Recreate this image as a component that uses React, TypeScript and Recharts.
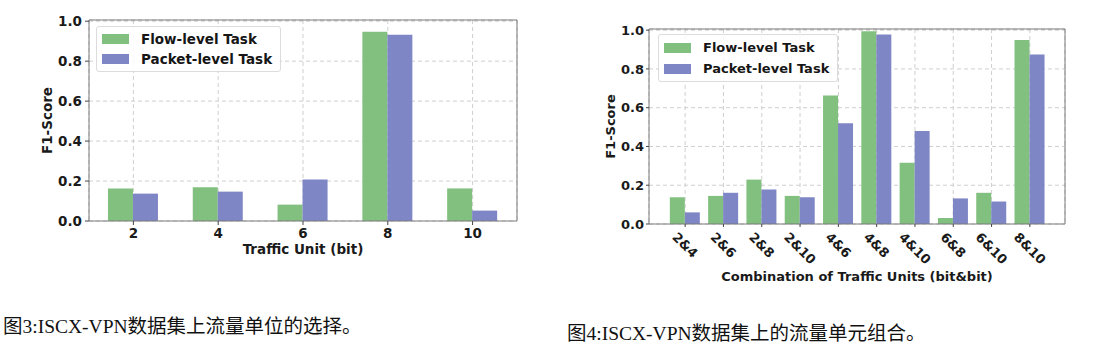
import React from 'react';
import {
  BarChart,
  Bar,
  XAxis,
  YAxis,
  CartesianGrid,
  Legend,
} from 'recharts';

// Fig 3: single traffic unit
const unitCategories = ['2', '4', '6', '8', '10'];
const unitFlow = [0.163, 0.169, 0.082, 0.947, 0.163];
const unitPacket = [0.137, 0.147, 0.208, 0.932, 0.052];

// Fig 4: combinations of traffic units
const comboCategories = ['2&4', '2&6', '2&8', '2&10', '4&6', '4&8', '4&10', '6&8', '6&10', '8&10'];
const comboFlow = [0.138, 0.145, 0.229, 0.145, 0.663, 0.995, 0.316, 0.031, 0.161, 0.949];
const comboPacket = [0.06, 0.161, 0.178, 0.138, 0.52, 0.978, 0.48, 0.132, 0.116, 0.875];

const yTicks = [0, 0.2, 0.4, 0.6, 0.8, 1.0];

const captions = ['图3:ISCX-VPN数据集上流量单位的选择。', '图4:ISCX-VPN数据集上的流量单元组合。'];

const unitData = unitCategories.map((c, i) => ({ cat: c, flow: unitFlow[i], packet: unitPacket[i] }));
const comboData = comboCategories.map((c, i) => ({ cat: c, flow: comboFlow[i], packet: comboPacket[i] }));

const GREEN = '#82c07f';
const BLUE = '#7f86c5';
const FRAME = '#7a7a7a';
const FONT = '"DejaVu Sans", Verdana, sans-serif';

const makeLegend = (fontSize: number, rowH: number) => (props: any) => {
  const { payload } = props;
  return (
    <div
      style={{
        border: '1px solid #dcdcdc',
        borderRadius: 3,
        background: 'rgba(255,255,255,0.85)',
        padding: '2px 8px 2px 5px',
        fontFamily: FONT,
        fontWeight: 'bold',
        fontSize,
        color: '#161616',
      }}
    >
      {(payload || []).map((e: any) => (
        <div key={e.value} style={{ display: 'flex', alignItems: 'center', height: rowH }}>
          <span style={{ display: 'inline-block', width: 27, height: 10, background: e.color, marginRight: 12 }} />
          <span>{e.value}</span>
        </div>
      ))}
    </div>
  );
};

const RotatedTick = (props: any) => {
  const { x, y, payload } = props;
  const txt = String(payload.value);
  const w = txt.length * 0.72 * 13;
  const dy = ((w + 9) * 0.707) / 2 + 3;
  return (
    <text
      transform={`translate(${x},${y + dy}) rotate(45)`}
      textAnchor="middle"
      dominantBaseline="central"
      fontFamily={FONT}
      fontWeight="bold"
      fontSize={13}
      fill="#1a1a1a"
    >
      {txt}
    </text>
  );
};

function Panel(props: {
  data: any[];
  width: number;
  height: number;
  margin: any;
  xHeight: number;
  padding: { left: number; right: number };
  gap: string;
  xTitle: string;
  xTitleDy: number;
  yTitleX: number;
  fontSize: number;
  tickSize: number;
  tickMargin: number;
  rotate?: boolean;
  legendPos: { top: number; left: number };
  rowH: number;
}) {
  const fs = props.fontSize;
  const tickStyle = { fontFamily: FONT, fontWeight: 'bold', fontSize: fs, fill: '#1a1a1a' };
  return (
    <BarChart
      width={props.width}
      height={props.height}
      data={props.data}
      margin={props.margin}
      barCategoryGap={props.gap}
      barGap={0}
    >
      <CartesianGrid stroke="#cfcfcf" strokeDasharray="4 3" />
      <XAxis
        dataKey="cat"
        height={props.xHeight}
        padding={props.padding}
        interval={0}
        stroke={FRAME}
        tickLine={{ stroke: '#444' }}
        tickSize={props.tickSize}
        tickMargin={props.tickMargin}
        tick={props.rotate ? <RotatedTick /> : tickStyle}
        label={(lp: any) => {
          const vb = lp.viewBox;
          return (
            <text
              x={vb.x + vb.width / 2}
              y={vb.y + props.xTitleDy}
              textAnchor="middle"
              fontFamily={FONT}
              fontWeight="bold"
              fontSize={fs}
              fill="#1a1a1a"
            >
              {props.xTitle}
            </text>
          );
        }}
      />
      {/* thin extra axes just to close the frame on top and right */}
      <XAxis xAxisId="top" dataKey="cat" orientation="top" height={1} tick={false} tickLine={false} stroke={FRAME} />
      <YAxis
        width={89 - props.margin.left}
        domain={[0, 1.006]}
        ticks={yTicks}
        tickFormatter={(v: number) => v.toFixed(1)}
        stroke={FRAME}
        tickLine={{ stroke: '#444' }}
        tickSize={props.tickSize}
        tickMargin={props.tickMargin}
        tick={tickStyle}
        label={(lp: any) => {
          const vb = lp.viewBox;
          const cy = vb.y + vb.height / 2;
          return (
            <text
              x={props.yTitleX}
              y={cy}
              transform={`rotate(-90, ${props.yTitleX}, ${cy})`}
              textAnchor="middle"
              fontFamily={FONT}
              fontWeight="bold"
              fontSize={fs}
              fill="#1a1a1a"
            >
              F1-Score
            </text>
          );
        }}
      />
      <YAxis yAxisId="right" orientation="right" width={1} tick={false} tickLine={false} stroke={FRAME} domain={[0, 1]} />
      <Legend
        layout="vertical"
        align="center"
        verticalAlign="middle"
        wrapperStyle={{ top: props.legendPos.top, left: props.legendPos.left, width: 'auto', height: 'auto' }}
        content={makeLegend(fs, props.rowH)}
      />
      <Bar dataKey="flow" name="Flow-level Task" fill={GREEN} isAnimationActive={false} />
      <Bar dataKey="packet" name="Packet-level Task" fill={BLUE} isAnimationActive={false} />
    </BarChart>
  );
}

export default function App() {
  const capStyle: React.CSSProperties = {
    position: 'absolute',
    fontFamily: '"Liberation Serif", "Noto Sans CJK SC", serif',
    fontSize: 19.5,
    lineHeight: 1,
    color: '#111',
    whiteSpace: 'nowrap',
  };
  return (
    <div style={{ position: 'absolute', left: 0, top: 0, width: 1101, height: 354, background: '#fff', overflow: 'hidden' }}>
      <div style={{ position: 'absolute', left: 0, top: 0 }}>
        <Panel
          data={unitData}
          width={530}
          height={290}
          margin={{ top: 19, right: 12, left: 30, bottom: 29 }}
          xHeight={40}
          padding={{ left: 2, right: 2 }}
          gap="20%"
          xTitle="Traffic Unit (bit)"
          xTitleDy={33}
          yTitleX={51.5}
          fontSize={13.5}
          tickSize={4}
          tickMargin={3}
          legendPos={{ top: 26, left: 96 }}
          rowH={20}
        />
      </div>
      <div style={{ position: 'absolute', left: 560, top: 0 }}>
        <Panel
          data={comboData}
          width={530}
          height={295}
          margin={{ top: 28, right: 24, left: 30, bottom: 11 }}
          xHeight={60}
          padding={{ left: 17, right: 16 }}
          gap="10%"
          xTitle="Combination of Traffic Units (bit&bit)"
          xTitleDy={57}
          yTitleX={55}
          fontSize={13}
          tickSize={3}
          tickMargin={2}
          rotate
          legendPos={{ top: 34, left: 98 }}
          rowH={21}
        />
      </div>
      <div style={{ ...capStyle, left: 3, top: 317 }}>{captions[0]}</div>
      <div style={{ ...capStyle, left: 567, top: 324 }}>{captions[1]}</div>
    </div>
  );
}
